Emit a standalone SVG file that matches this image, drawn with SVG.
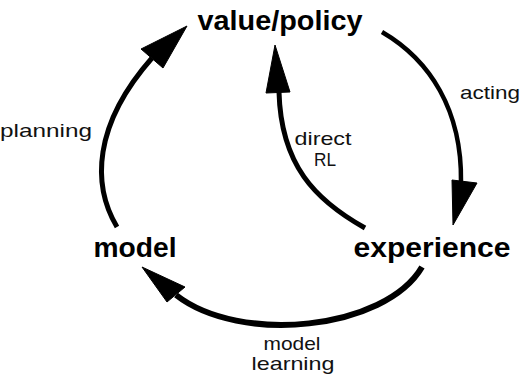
<svg xmlns="http://www.w3.org/2000/svg" width="523" height="378" viewBox="0 0 523 378">
<style>
.big{font-family:"Liberation Sans",Arial,sans-serif;font-weight:bold;font-size:28px;fill:#000;text-anchor:middle}
.lbl{font-family:"Liberation Sans",Arial,sans-serif;font-size:19px;fill:#111;text-anchor:middle}
.c{fill:none;stroke:#000;stroke-width:5;stroke-linecap:butt}
.h{fill:#000;stroke:#000;stroke-width:1;stroke-linejoin:miter}
</style>
<rect width="523" height="378" fill="#fff"/>
<g id="value-policy"><text class="big" x="280" y="30" textLength="165" lengthAdjust="spacingAndGlyphs">value/policy</text></g>
<g id="experience"><text class="big" x="432" y="257" textLength="157" lengthAdjust="spacingAndGlyphs">experience</text></g>
<g id="model"><text class="big" x="135" y="257" textLength="83" lengthAdjust="spacingAndGlyphs">model</text></g>
<g id="connectors">
<g id="planning">
<path class="c" d="M117,227 C92,185 93,125 152,58"/>
<polygon class="h" points="187,26 141,49 163,68"/>
<text class="lbl" x="46" y="137" textLength="92" lengthAdjust="spacingAndGlyphs">planning</text>
</g>
<g id="acting">
<path class="c" style="stroke-width:4.5" d="M382,32 C430,60 462,110 461,182"/>
<polygon class="h" points="453,225 452,180 477,183"/>
<text class="lbl" x="490" y="99" textLength="60" lengthAdjust="spacingAndGlyphs">acting</text>
</g>
<g id="direct-rl">
<path class="c" d="M365,228 C315,200 281,165 279,92"/>
<polygon class="h" points="275,45 266,93 290,92"/>
<text class="lbl" x="323" y="145" textLength="57" lengthAdjust="spacingAndGlyphs">direct</text>
<text class="lbl" x="325" y="166" textLength="22" lengthAdjust="spacingAndGlyphs">RL</text>
</g>
<g id="model-learning">
<path class="c" style="stroke-width:6" d="M422,267 C385,330 240,345 176,295"/>
<polygon class="h" points="142,267 167,302 185,287"/>
<text class="lbl" x="292" y="350" textLength="57" lengthAdjust="spacingAndGlyphs">model</text>
<text class="lbl" x="293" y="370" textLength="83" lengthAdjust="spacingAndGlyphs">learning</text>
</g>
</g>
</svg>
